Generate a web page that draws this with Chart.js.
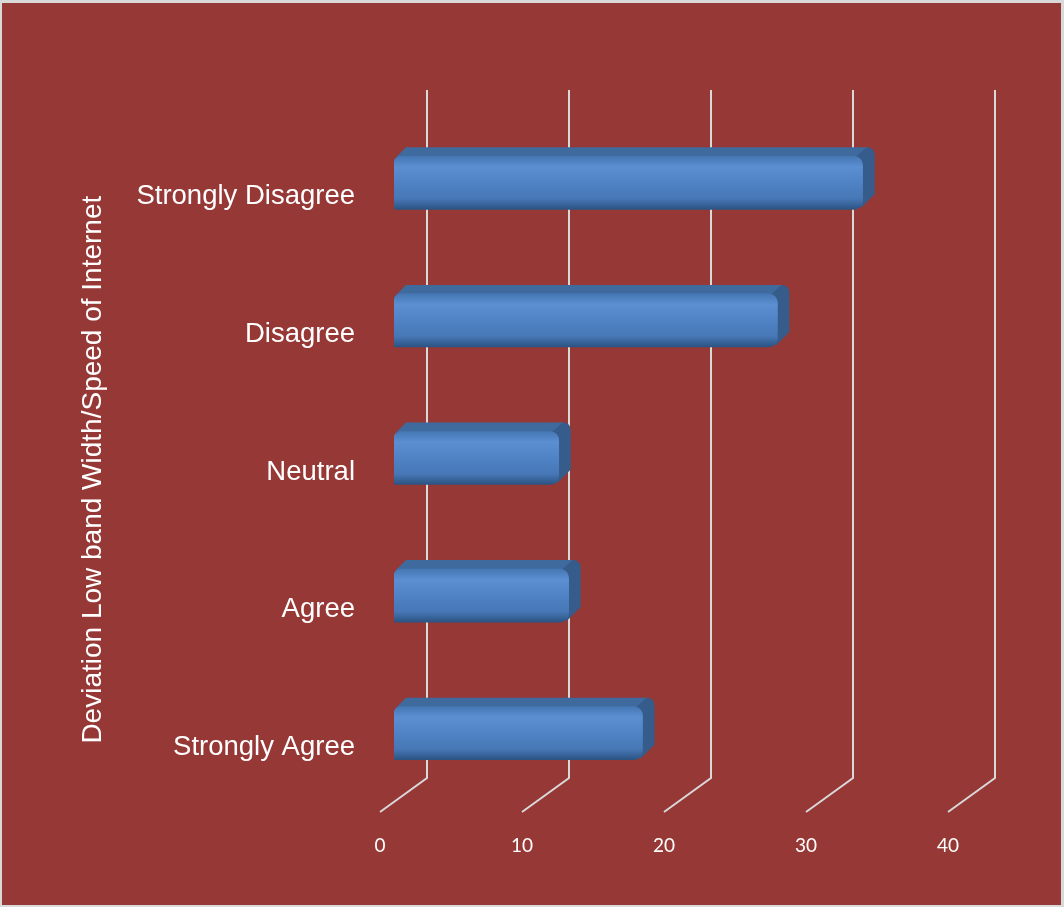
<!DOCTYPE html>
<html>
<head>
<meta charset="utf-8">
<script src="https://cdn.jsdelivr.net/npm/chart.js@4/dist/chart.umd.min.js"></script>
<style>
  html, body { margin: 0; padding: 0; background: #d9d9d9; }
  #box { position: absolute; left: 2px; top: 3px; width: 1059px; height: 902px; background: #963836; }
</style>
</head>
<body>
<div id="box"><canvas id="myChart" width="1059" height="902"></canvas></div>
<script>
// данные графика
const categories = ['Strongly Disagree', 'Disagree', 'Neutral', 'Agree', 'Strongly Agree'];
const values = [33, 27, 11.6, 12.3, 17.5];
const xTicks = [0, 10, 20, 30, 40];
const axisTitle = 'Deviation Low band Width/Speed of Internet';

const DX = 12, DY = 9;          // глубина бруска
const BACK_X = 33, BACK_Y = 24; // задняя стенка сетки
const FRONT_X = 14, FRONT_Y = 10; // передний край сетки

// сетка в перспективе
const gridPlugin = {
  id: 'grid3d',
  beforeDatasetsDraw(chart) {
    const c = chart.ctx, a = chart.chartArea, sx = chart.scales.x;
    c.save();
    c.strokeStyle = '#d9d9d9';
    c.lineWidth = 2;
    xTicks.forEach(v => {
      const x = sx.getPixelForValue(v);
      c.beginPath();
      c.moveTo(x + BACK_X, a.top - BACK_Y);
      c.lineTo(x + BACK_X, a.bottom - BACK_Y);
      c.lineTo(x - FRONT_X, a.bottom + FRONT_Y);
      c.stroke();
    });
    // верх и торец брусков
    const meta = chart.getDatasetMeta(0);
    meta.data.forEach(bar => {
      const top = bar.y - bar.height / 2, bottom = bar.y + bar.height / 2;
      const left = bar.base, right = bar.x;
      c.fillStyle = '#3f6a9e';
      c.beginPath();
      c.moveTo(left + 2, top + 1);
      c.lineTo(left + DX, top - DY);
      c.lineTo(right + DX - 6, top - DY);
      c.lineTo(right - 4, top + 1);
      c.closePath();
      c.fill();
      c.fillStyle = '#365c8b';
      c.beginPath();
      c.moveTo(right - 6, top);
      c.lineTo(right + DX - 8, top - DY);
      c.quadraticCurveTo(right + DX, top - DY, right + DX, top - DY + 8);
      c.lineTo(right + DX, bottom - DY - 6);
      c.lineTo(right - 2, bottom - 1);
      c.closePath();
      c.fill();
    });
    c.restore();
  }
};

function barFill(ctx) {
  const chart = ctx.chart;
  const sy = chart.scales.y;
  if (!sy || ctx.dataIndex === undefined) return '#4f81bd';
  const yc = sy.getPixelForValue(ctx.dataIndex);
  if (!Number.isFinite(yc)) return '#4f81bd';
  const g = chart.ctx.createLinearGradient(0, yc - 26.5, 0, yc + 26.5);
  g.addColorStop(0, '#4677b4');
  g.addColorStop(0.2, '#5b8fd2');
  g.addColorStop(0.5, '#4f83c5');
  g.addColorStop(0.8, '#4777b6');
  g.addColorStop(1, '#2c5483');
  return g;
}

const configChart = {
  type: 'bar',
  data: {
    labels: categories,
    datasets: [{
      data: values,
      backgroundColor: barFill,
      borderWidth: 0,
      borderSkipped: false,
      borderRadius: { topLeft: 7, bottomLeft: 2, topRight: 9, bottomRight: 9 },
      barThickness: 53
    }]
  },
  options: {
    indexAxis: 'y',
    responsive: false,
    animation: false,
    devicePixelRatio: 1,
    layout: { padding: { top: 111, right: 99, bottom: 0, left: 0 } },
    plugins: { legend: { display: false }, tooltip: { enabled: false } },
    scales: {
      x: {
        min: 0,
        max: 40,
        afterFit(scale) { scale.height = 103; },
        afterBuildTicks(scale) { scale.ticks = xTicks.map(v => ({ value: v })); },
        grid: { display: false, drawTicks: false },
        border: { display: false },
        ticks: {
          color: '#ffffff',
          font: { family: 'Lato', size: 19 },
          padding: 32,
          labelOffset: -FRONT_X
        }
      },
      y: {
        afterFit(scale) { scale.width = 392; },
        grid: { display: false, drawTicks: false },
        border: { display: false },
        ticks: {
          color: '#ffffff',
          font: { family: 'Liberation Sans', size: 27.5 },
          padding: 39,
          labelOffset: 14
        },
        title: {
          display: true,
          // пробелы в конце сдвигают подпись вниз (костыль)
          text: axisTitle + '\u00a0\u00a0\u00a0',
          color: '#ffffff',
          font: { family: 'Liberation Sans', size: 28 },
          padding: { top: 74, bottom: 0 }
        }
      }
    }
  },
  plugins: [gridPlugin]
};

const myChart = new Chart(document.getElementById('myChart'), configChart);
myChart.update();
</script>
</body>
</html>
